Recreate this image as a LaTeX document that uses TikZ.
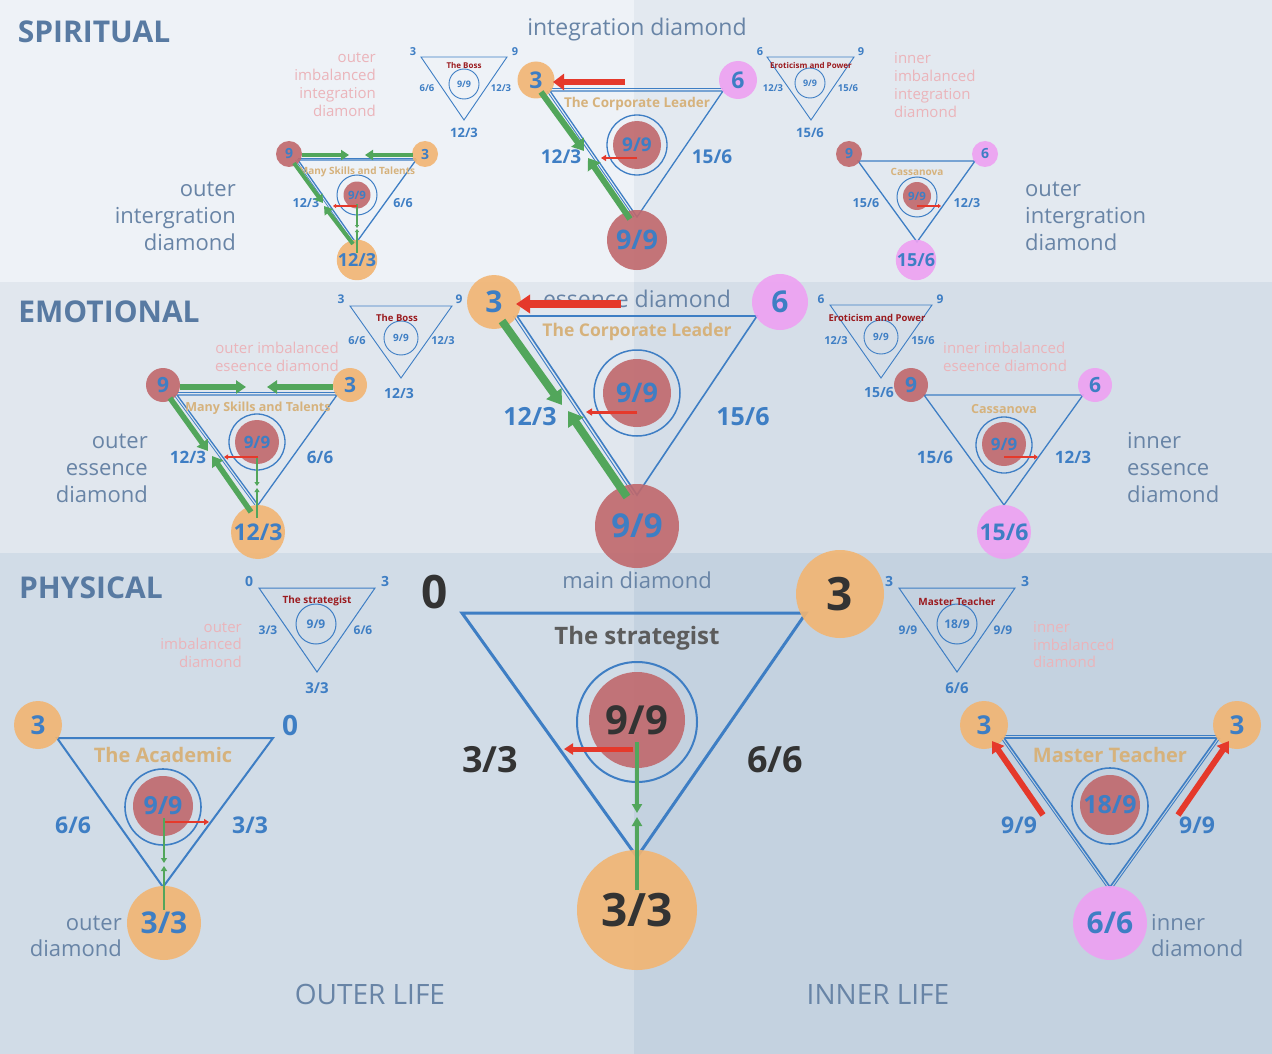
\documentclass[tikz,border=0pt]{standalone}
\usepackage{fontspec}
\setmainfont{Open Sans}
\usetikzlibrary{arrows.meta}
\definecolor{bgTL}{RGB}{238,242,247}
\definecolor{bgTR}{RGB}{227,233,240}
\definecolor{bgML}{RGB}{225,231,238}
\definecolor{bgMR}{RGB}{213,222,232}
\definecolor{bgBL}{RGB}{209,220,231}
\definecolor{bgBR}{RGB}{196,210,224}
\definecolor{dblue}{RGB}{62,126,196}
\definecolor{corange}{RGB}{242,181,114}
\definecolor{cred}{RGB}{192,104,108}
\definecolor{cpink}{RGB}{238,160,242}
\definecolor{cgold}{RGB}{214,178,124}
\definecolor{dkred}{RGB}{155,27,31}
\definecolor{plabel}{RGB}{235,180,186}
\definecolor{slate}{RGB}{104,132,166}
\definecolor{titleblue}{RGB}{88,122,162}
\definecolor{cgreen}{RGB}{82,166,91}
\definecolor{carrow}{RGB}{229,57,43}
\definecolor{dgray}{RGB}{51,51,51}
\definecolor{mgray}{RGB}{92,92,92}
\newcommand{\myfs}[1]{\fontsize{#1}{#1}\selectfont}
\tikzset{
  tri/.style={draw=dblue, line width=1.3pt, line join=miter},
  tridbl/.style={draw=dblue, line width=0.9pt},
  cdot/.style={circle, inner sep=0pt, text=dblue, fill opacity=0.9, text opacity=1},
  cring/.style={circle, draw=dblue, line width=1.3pt, inner sep=0pt},
  num/.style={text=dblue, inner sep=0pt},
  gold/.style={text=cgold, inner sep=0pt},
  boss/.style={text=dkred, inner sep=0pt},
  title/.style={text=titleblue, inner sep=0pt, font=\bfseries\myfs{30}},
  desc/.style={text=slate, inner sep=0pt},
  pink/.style={text=plabel, inner sep=0pt},
  garrow/.style={draw=cgreen, line width=#1},
  rarrow/.style={draw=carrow, line width=#1},
}
\begin{document}
\begin{tikzpicture}[x=1pt,y=-1pt]
\useasboundingbox (0,0) rectangle (1272,1054);
% backgrounds
\fill[bgTL] (0,0) rectangle (634,282);
\fill[bgTR] (634,0) rectangle (1272,282);
\fill[bgML] (0,282) rectangle (634,553);
\fill[bgMR] (634,282) rectangle (1272,553);
\fill[bgBL] (0,553) rectangle (634,1054);
\fill[bgBR] (634,553) rectangle (1272,1054);

% titles
\node[title] (tS) at (94,32) {SPIRITUAL};
\node[title] (tE) at (109,312) {EMOTIONAL};
\node[title] (tP) at (91,588) {PHYSICAL};
\node[desc, font=\myfs{23}] (lInt) at (637,30) {integration diamond};
\node[desc, font=\myfs{23}] (lEss) at (637,299) {essence diamond};
\node[desc, font=\myfs{22}] (lMain) at (637,580) {main diamond};
\node[desc, font=\myfs{28}] (lOut) at (370,994) {OUTER LIFE};
\node[desc, font=\myfs{28}] (lIn) at (878,994) {INNER LIFE};

% ===================== SPIRITUAL =====================
% corporate leader
\coordinate (scA) at (550,91); \coordinate (scB) at (723,91); \coordinate (scC) at (637,217);
\draw[tri] (scA) -- (scB) -- (scC) -- cycle;
\draw[tridbl] ([yshift=2.5pt]scA) -- ([yshift=2.5pt]scB);
\draw[tridbl] ([xshift=-3pt]scA) -- ([xshift=-3pt]scC);
\node[cring, minimum size=60pt] (scR) at (637,145) {};
\node[cdot, fill=cred, minimum size=48pt, font=\bfseries\myfs{19}] (scI) at (637,145) {9/9};
\node[cdot, fill=corange, minimum size=37pt, font=\bfseries\myfs{23}] (sc3) at (536,80) {3};
\node[cdot, fill=cpink, minimum size=38pt, font=\bfseries\myfs{23}] (sc6) at (738,80) {6};
\node[cdot, fill=cred, minimum size=60pt, font=\bfseries\myfs{27}] (scB9) at (637,240) {9/9};
\node[gold, font=\bfseries\myfs{13.5}] (scT) at (637,104) {The Corporate Leader};
\node[num, font=\bfseries\myfs{19}] (scL) at (561,157) {12/3};
\node[num, font=\bfseries\myfs{19}] (scRr) at (712,157) {15/6};

% boss small
\coordinate (sbA) at (421,57); \coordinate (sbB) at (507,57); \coordinate (sbC) at (464,120);
\draw[tri, line width=0.9pt] (sbA) -- (sbB) -- (sbC) -- cycle;
\node[cring, line width=0.9pt, minimum size=30pt, font=\bfseries\myfs{9}, text=dblue] (sbR) at (464,84) {9/9};
\node[num, font=\bfseries\myfs{11}] (sb3) at (413,52) {3};
\node[num, font=\bfseries\myfs{11}] (sb9) at (515,52) {9};
\node[boss, font=\bfseries\myfs{8}] (sbT) at (464,66) {The Boss};
\node[num, font=\bfseries\myfs{9.5}] (sbL) at (427,88) {6/6};
\node[num, font=\bfseries\myfs{9.5}] (sbRr) at (501,88) {12/3};
\node[num, font=\bfseries\myfs{13}] (sbBt) at (464,133) {12/3};
\node[pink, font=\fontsize{15}{18}\selectfont, align=right, anchor=east] (sbP) at (376,85) {outer\\imbalanced\\integration\\diamond};

% many skills
\coordinate (smA) at (298,160); \coordinate (smB) at (416,160); \coordinate (smC) at (356,243);
\draw[tri] (smA) -- (smB) -- (smC) -- cycle;
\draw[tridbl, line width=0.7pt] ([yshift=2pt]smA) -- ([yshift=2pt]smB);
\draw[tridbl, line width=0.7pt] ([xshift=-2.5pt]smA) -- ([xshift=-2.5pt]smC);
\node[cring, line width=1pt, minimum size=40pt] (smR) at (357,195) {};
\node[cdot, fill=cred, minimum size=27pt, font=\bfseries\myfs{11.5}] (smI) at (357,195) {9/9};
\node[cdot, fill=cred, minimum size=26pt, font=\bfseries\myfs{14}] (sm9) at (289,154) {9};
\node[cdot, fill=corange, minimum size=26pt, font=\bfseries\myfs{14}] (sm3) at (425,154) {3};
\node[cdot, fill=corange, minimum size=40pt, font=\bfseries\myfs{18}] (smB3) at (357,260) {12/3};
\node[gold, font=\bfseries\myfs{10}] (smT) at (357,172) {Many Skills and Talents};
\node[num, font=\bfseries\myfs{12.5}] (smL) at (306,203) {12/3};
\node[num, font=\bfseries\myfs{12.5}] (smRr) at (403,203) {6/6};
\node[desc, font=\fontsize{22}{27}\selectfont, align=right, anchor=east] (smD) at (236,216) {outer\\intergration\\diamond};

% eroticism small
\coordinate (seA) at (767,57); \coordinate (seB) at (854,57); \coordinate (seC) at (811,120);
\draw[tri, line width=0.9pt] (seA) -- (seB) -- (seC) -- cycle;
\node[cring, line width=0.9pt, minimum size=30pt, font=\bfseries\myfs{9}, text=dblue] (seR) at (810,83) {9/9};
\node[num, font=\bfseries\myfs{11}] (se6) at (760,52) {6};
\node[num, font=\bfseries\myfs{11}] (se9) at (861,52) {9};
\node[boss, font=\bfseries\myfs{8}] (seT) at (811,66) {Eroticism and Power};
\node[num, font=\bfseries\myfs{9.5}] (seL) at (773,88) {12/3};
\node[num, font=\bfseries\myfs{9.5}] (seRr) at (848,88) {15/6};
\node[num, font=\bfseries\myfs{13}] (seBt) at (810,133) {15/6};
\node[pink, font=\fontsize{15}{18}\selectfont, align=left, anchor=west] (seP) at (894,85) {inner\\imbalanced\\integration\\diamond};

% cassanova
\coordinate (skA) at (858,161); \coordinate (skB) at (975,161); \coordinate (skC) at (917,242);
\draw[tri] (skA) -- (skB) -- (skC) -- cycle;
\node[cring, line width=1pt, minimum size=40pt] (skR) at (917,197) {};
\node[cdot, fill=cred, minimum size=28pt, font=\bfseries\myfs{11.5}] (skI) at (917,196) {9/9};
\node[cdot, fill=cred, minimum size=26pt, font=\bfseries\myfs{14}] (sk9) at (849,154) {9};
\node[cdot, fill=cpink, minimum size=26pt, font=\bfseries\myfs{14}] (sk6) at (985,154) {6};
\node[cdot, fill=cpink, minimum size=40pt, font=\bfseries\myfs{18}] (skB6) at (916,260) {15/6};
\node[gold, font=\bfseries\myfs{10}] (skT) at (917,172) {Cassanova};
\node[num, font=\bfseries\myfs{12.5}] (skL) at (866,203) {15/6};
\node[num, font=\bfseries\myfs{12.5}] (skRr) at (967,203) {12/3};
\node[desc, font=\fontsize{22}{27}\selectfont, align=left, anchor=west] (skD) at (1025,216) {outer\\intergration\\diamond};

% ===================== EMOTIONAL =====================
\coordinate (ecA) at (517,316); \coordinate (ecB) at (757,316); \coordinate (ecC) at (637,495);
\draw[tri, line width=1.6pt] (ecA) -- (ecB) -- (ecC) -- cycle;
\draw[tridbl] ([xshift=-3.5pt]ecA) -- ([xshift=-3.5pt]ecC);
\node[cring, minimum size=86pt, line width=1.5pt] (ecR) at (637,393) {};
\node[cdot, fill=cred, minimum size=68pt, font=\bfseries\myfs{27}] (ecI) at (637,393) {9/9};
\node[cdot, fill=corange, minimum size=54pt, font=\bfseries\myfs{30}] (ec3) at (494,302) {3};
\node[cdot, fill=cpink, minimum size=56pt, font=\bfseries\myfs{30}] (ec6) at (780,302) {6};
\node[cdot, fill=cred, minimum size=84pt, font=\bfseries\myfs{33}] (ecB9) at (637,526) {9/9};
\node[gold, font=\bfseries\myfs{17.5}] (ecT) at (637,332) {The Corporate Leader};
\node[num, font=\bfseries\myfs{25}] (ecL) at (530,417) {12/3};
\node[num, font=\bfseries\myfs{25}] (ecRr) at (743,417) {15/6};

% boss small
\coordinate (ebA) at (350,306); \coordinate (ebB) at (452,306); \coordinate (ebC) at (401,378);
\draw[tri, line width=0.9pt] (ebA) -- (ebB) -- (ebC) -- cycle;
\node[cring, line width=0.9pt, minimum size=34pt, font=\bfseries\myfs{10}, text=dblue] (ebR) at (401,338) {9/9};
\node[num, font=\bfseries\myfs{12}] (eb3) at (341,299) {3};
\node[num, font=\bfseries\myfs{12}] (eb9) at (459,299) {9};
\node[boss, font=\bfseries\myfs{9.5}] (ebT) at (397,318) {The Boss};
\node[num, font=\bfseries\myfs{11}] (ebL) at (357,341) {6/6};
\node[num, font=\bfseries\myfs{11}] (ebRr) at (443,341) {12/3};
\node[num, font=\bfseries\myfs{14}] (ebBt) at (399,393) {12/3};
\node[pink, font=\fontsize{15}{18}\selectfont, align=right, anchor=east] (ebP) at (339,357) {outer imbalanced\\eseence diamond};

% many skills
\coordinate (emA) at (177,395); \coordinate (emB) at (337,395); \coordinate (emC) at (258,505);
\draw[tri] (emA) -- (emB) -- (emC) -- cycle;
\draw[tridbl, line width=0.8pt] ([yshift=3pt]emA) -- ([yshift=3pt]emB);
\draw[tridbl, line width=0.8pt] ([xshift=-3pt]emA) -- ([xshift=-3pt]emC);
\node[cring, minimum size=56pt] (emR) at (257,442) {};
\node[cdot, fill=cred, minimum size=44pt, font=\bfseries\myfs{17}] (emI) at (257,442) {9/9};
\node[cdot, fill=cred, minimum size=34pt, font=\bfseries\myfs{21}] (em9) at (163,385) {9};
\node[cdot, fill=corange, minimum size=34pt, font=\bfseries\myfs{21}] (em3) at (350,385) {3};
\node[cdot, fill=corange, minimum size=54pt, font=\bfseries\myfs{23}] (emB3) at (258,532) {12/3};
\node[gold, font=\bfseries\myfs{12.5}] (emT) at (258,408) {Many Skills and Talents};
\node[num, font=\bfseries\myfs{17}] (emL) at (188,457) {12/3};
\node[num, font=\bfseries\myfs{17}] (emRr) at (320,457) {6/6};
\node[desc, font=\fontsize{22}{27}\selectfont, align=right, anchor=east] (emD) at (148,468) {outer\\essence\\diamond};

% eroticism small
\coordinate (eeA) at (830,305); \coordinate (eeB) at (932,305); \coordinate (eeC) at (881,378);
\draw[tri, line width=0.9pt] (eeA) -- (eeB) -- (eeC) -- cycle;
\node[cring, line width=0.9pt, minimum size=34pt, font=\bfseries\myfs{10}, text=dblue] (eeR) at (881,337) {9/9};
\node[num, font=\bfseries\myfs{12}] (ee6) at (821,299) {6};
\node[num, font=\bfseries\myfs{12}] (ee9) at (940,299) {9};
\node[boss, font=\bfseries\myfs{9.5}] (eeT) at (877,318) {Eroticism and Power};
\node[num, font=\bfseries\myfs{11}] (eeL) at (836,341) {12/3};
\node[num, font=\bfseries\myfs{11}] (eeRr) at (923,341) {15/6};
\node[num, font=\bfseries\myfs{14}] (eeBt) at (879,393) {15/6};
\node[pink, font=\fontsize{15}{18}\selectfont, align=left, anchor=west] (eeP) at (943,357) {inner imbalanced\\eseence diamond};

% cassanova
\coordinate (ekA) at (924,395); \coordinate (ekB) at (1083,395); \coordinate (ekC) at (1004,505);
\draw[tri] (ekA) -- (ekB) -- (ekC) -- cycle;
\node[cring, minimum size=56pt] (ekR) at (1004,445) {};
\node[cdot, fill=cred, minimum size=44pt, font=\bfseries\myfs{17}] (ekI) at (1004,444) {9/9};
\node[cdot, fill=cred, minimum size=34pt, font=\bfseries\myfs{21}] (ek9) at (911,385) {9};
\node[cdot, fill=cpink, minimum size=34pt, font=\bfseries\myfs{21}] (ek6) at (1095,385) {6};
\node[cdot, fill=cpink, minimum size=54pt, font=\bfseries\myfs{23}] (ekB6) at (1004,532) {15/6};
\node[gold, font=\bfseries\myfs{12.5}] (ekT) at (1004,409) {Cassanova};
\node[num, font=\bfseries\myfs{17}] (ekL) at (935,457) {15/6};
\node[num, font=\bfseries\myfs{17}] (ekRr) at (1073,457) {12/3};
\node[desc, font=\fontsize{22}{27}\selectfont, align=left, anchor=west] (ekD) at (1127,468) {inner\\essence\\diamond};

% ===================== PHYSICAL =====================
\coordinate (pmA) at (462,613); \coordinate (pmB) at (806,613); \coordinate (pmC) at (637,857);
\draw[tri, line width=3pt] (pmA) -- (pmB) -- (pmC) -- cycle;
\node[cring, minimum size=120pt, line width=2pt] (pmR) at (637,722) {};
\node[cdot, fill=cred, minimum size=96pt, text=dgray, font=\bfseries\myfs{40}] (pmI) at (637,720) {9/9};
\node[text=dgray, inner sep=0pt, font=\bfseries\myfs{46}] (pm0) at (435,592) {0};
\node[cdot, fill=corange, minimum size=88pt, text=dgray, font=\bfseries\myfs{46}] (pm3) at (840,594) {3};
\node[cdot, fill=corange, minimum size=120pt, text=dgray, font=\bfseries\myfs{46}] (pmB3) at (637,910) {3/3};
\node[text=mgray, inner sep=0pt, font=\bfseries\myfs{24}] (pmT) at (637,638) {The strategist};
\node[text=dgray, inner sep=0pt, font=\bfseries\myfs{36}] (pmL) at (490,760) {3/3};
\node[text=dgray, inner sep=0pt, font=\bfseries\myfs{36}] (pmRr) at (775,760) {6/6};

% strategist small
\coordinate (psA) at (259,588); \coordinate (psB) at (375,588); \coordinate (psC) at (317,672);
\draw[tri, line width=1pt] (psA) -- (psB) -- (psC) -- cycle;
\node[cring, line width=1pt, minimum size=40pt, font=\bfseries\myfs{12}, text=dblue] (psR) at (316,624) {9/9};
\node[num, font=\bfseries\myfs{14}] (ps0) at (249,581) {0};
\node[num, font=\bfseries\myfs{14}] (ps3) at (385,581) {3};
\node[boss, font=\bfseries\myfs{10}] (psT) at (317,601) {The strategist};
\node[num, font=\bfseries\myfs{12}] (psL) at (268,630) {3/3};
\node[num, font=\bfseries\myfs{12}] (psRr) at (363,630) {6/6};
\node[num, font=\bfseries\myfs{15}] (psBt) at (317,688) {3/3};
\node[pink, font=\fontsize{15}{17.5}\selectfont, align=right, anchor=east] (psP) at (242,645) {outer\\imbalanced\\diamond};

% academic
\coordinate (paA) at (57,738); \coordinate (paB) at (273,738); \coordinate (paC) at (163,887);
\draw[tri, line width=2pt] (paA) -- (paB) -- (paC) -- cycle;
\node[cring, minimum size=76pt, line width=1.6pt] (paR) at (163,807) {};
\node[cdot, fill=cred, minimum size=60pt, font=\bfseries\myfs{25}] (paI) at (163,806) {9/9};
\node[cdot, fill=corange, minimum size=48pt, font=\bfseries\myfs{26}] (pa3) at (38,725) {3};
\node[num, font=\bfseries\myfs{28}] (pa0) at (290,725) {0};
\node[cdot, fill=corange, minimum size=74pt, font=\bfseries\myfs{30}] (paB3) at (164,923) {3/3};
\node[gold, font=\bfseries\myfs{20}] (paT) at (163,755) {The Academic};
\node[num, font=\bfseries\myfs{23}] (paL) at (73,825) {6/6};
\node[num, font=\bfseries\myfs{23}] (paRr) at (250,825) {3/3};
\node[desc, font=\fontsize{22}{26}\selectfont, align=right, anchor=east] (paD) at (122,936) {outer\\diamond};

% master teacher small
\coordinate (ptA) at (899,588); \coordinate (ptB) at (1015,588); \coordinate (ptC) at (957,672);
\draw[tri, line width=1pt] (ptA) -- (ptB) -- (ptC) -- cycle;
\node[cring, line width=1pt, minimum size=40pt, font=\bfseries\myfs{12}, text=dblue] (ptR) at (957,624) {18/9};
\node[num, font=\bfseries\myfs{14}] (pt3a) at (889,581) {3};
\node[num, font=\bfseries\myfs{14}] (pt3b) at (1025,581) {3};
\node[boss, font=\bfseries\myfs{10}] (ptT) at (957,602) {Master Teacher};
\node[num, font=\bfseries\myfs{12}] (ptL) at (908,630) {9/9};
\node[num, font=\bfseries\myfs{12}] (ptRr) at (1003,630) {9/9};
\node[num, font=\bfseries\myfs{15}] (ptBt) at (957,688) {6/6};
\node[pink, font=\fontsize{15}{17.5}\selectfont, align=left, anchor=west] (ptP) at (1033,645) {inner\\imbalanced\\diamond};

% master teacher main
\coordinate (pxA) at (1004,738); \coordinate (pxB) at (1217,738); \coordinate (pxC) at (1110,887);
\draw[tri, line width=1.6pt] (pxA) -- (pxB) -- (pxC) -- cycle;
\draw[tridbl] ([yshift=2.5pt]pxA) -- ([yshift=2.5pt]pxB);
\draw[tridbl] ([xshift=-3pt]pxA) -- ([xshift=-3pt]pxC);
\draw[tridbl] ([xshift=3pt]pxB) -- ([xshift=3pt]pxC);
\node[cring, minimum size=76pt, line width=1.6pt] (pxR) at (1110,806) {};
\node[cdot, fill=cred, minimum size=60pt, font=\bfseries\myfs{25}] (pxI) at (1110,805) {18/9};
\node[cdot, fill=corange, minimum size=48pt, font=\bfseries\myfs{26}] (px3a) at (984,725) {3};
\node[cdot, fill=corange, minimum size=48pt, font=\bfseries\myfs{26}] (px3b) at (1237,725) {3};
\node[cdot, fill=cpink, minimum size=74pt, font=\bfseries\myfs{30}] (pxB6) at (1110,923) {6/6};
\node[gold, font=\bfseries\myfs{20}] (pxT) at (1110,755) {Master Teacher};
\node[num, font=\bfseries\myfs{23}] (pxL) at (1019,825) {9/9};
\node[num, font=\bfseries\myfs{23}] (pxRr) at (1197,825) {9/9};
\node[desc, font=\fontsize{22}{26}\selectfont, align=left, anchor=west] (pxD) at (1151,936) {inner\\diamond};

% ===================== ARROWS =====================
% spiritual corporate
\coordinate (a1s) at (625,82); \coordinate (a1e) at (553,82);
\draw[rarrow=6pt, -{Triangle[length=11pt,width=16pt]}] (a1s) -- (a1e);
\coordinate (a2s) at (637,158); \coordinate (a2e) at (601,158);
\draw[rarrow=2.5pt, -{Triangle[length=5pt,width=6pt]}] (a2s) -- (a2e);
\coordinate (a3s) at (541,92); \coordinate (a3e) at (584,151);
\draw[garrow=6pt, -{Triangle[length=11pt,width=15pt]}] (a3s) -- (a3e);
\coordinate (a4s) at (630,219); \coordinate (a4e) at (588,158);
\draw[garrow=6pt, -{Triangle[length=11pt,width=15pt]}] (a4s) -- (a4e);
% spiritual many skills
\coordinate (b1s) at (302,155); \coordinate (b1e) at (349,155);
\draw[garrow=4pt, -{Triangle[length=8pt,width=10pt]}] (b1s) -- (b1e);
\coordinate (b2s) at (413,155); \coordinate (b2e) at (365,155);
\draw[garrow=4pt, -{Triangle[length=8pt,width=10pt]}] (b2s) -- (b2e);
\coordinate (b3s) at (294,163); \coordinate (b3e) at (323,203);
\draw[garrow=4pt, -{Triangle[length=8pt,width=10pt]}] (b3s) -- (b3e);
\coordinate (b4s) at (353,244); \coordinate (b4e) at (324,206);
\draw[garrow=4pt, -{Triangle[length=8pt,width=10pt]}] (b4s) -- (b4e);
\coordinate (b5s) at (357,204); \coordinate (b5e) at (357,228);
\draw[garrow=1.5pt, -{Triangle[length=3pt,width=4pt]}] (b5s) -- (b5e);
\coordinate (b6s) at (357,253); \coordinate (b6e) at (357,229);
\draw[garrow=1.5pt, -{Triangle[length=3pt,width=4pt]}] (b6s) -- (b6e);
\coordinate (b7s) at (357,206); \coordinate (b7e) at (333,206);
\draw[rarrow=2pt, -{Triangle[length=3pt,width=4pt]}] (b7s) -- (b7e);
% spiritual cassanova
\coordinate (c1s) at (917,206); \coordinate (c1e) at (941,206);
\draw[rarrow=2pt, -{Triangle[length=3pt,width=4pt]}] (c1s) -- (c1e);
% emotional corporate
\coordinate (d1s) at (621,304); \coordinate (d1e) at (516,304);
\draw[rarrow=8pt, -{Triangle[length=14pt,width=18pt]}] (d1s) -- (d1e);
\coordinate (d2s) at (637,412); \coordinate (d2e) at (586,412);
\draw[rarrow=3pt, -{Triangle[length=6pt,width=7pt]}] (d2s) -- (d2e);
\coordinate (d3s) at (502,321); \coordinate (d3e) at (562,405);
\draw[garrow=8pt, -{Triangle[length=14pt,width=18pt]}] (d3s) -- (d3e);
\coordinate (d4s) at (627,497); \coordinate (d4e) at (568,411);
\draw[garrow=8pt, -{Triangle[length=14pt,width=18pt]}] (d4s) -- (d4e);
% emotional many skills
\coordinate (e1s) at (180,387); \coordinate (e1e) at (246,387);
\draw[garrow=5.5pt, -{Triangle[length=10pt,width=13pt]}] (e1s) -- (e1e);
\coordinate (e2s) at (333,387); \coordinate (e2e) at (267,387);
\draw[garrow=5.5pt, -{Triangle[length=10pt,width=13pt]}] (e2s) -- (e2e);
\coordinate (e3s) at (170,398); \coordinate (e3e) at (208,451);
\draw[garrow=5.5pt, -{Triangle[length=10pt,width=13pt]}] (e3s) -- (e3e);
\coordinate (e4s) at (251,512); \coordinate (e4e) at (212,456);
\draw[garrow=5.5pt, -{Triangle[length=10pt,width=13pt]}] (e4s) -- (e4e);
\coordinate (e5s) at (257,456); \coordinate (e5e) at (257,486);
\draw[garrow=2pt, -{Triangle[length=4pt,width=5pt]}] (e5s) -- (e5e);
\coordinate (e6s) at (257,518); \coordinate (e6e) at (257,488);
\draw[garrow=2pt, -{Triangle[length=4pt,width=5pt]}] (e6s) -- (e6e);
\coordinate (e7s) at (258,457); \coordinate (e7e) at (224,457);
\draw[rarrow=2pt, -{Triangle[length=4pt,width=5pt]}] (e7s) -- (e7e);
% emotional cassanova
\coordinate (f1s) at (1004,457); \coordinate (f1e) at (1038,457);
\draw[rarrow=2pt, -{Triangle[length=4pt,width=5pt]}] (f1s) -- (f1e);
% physical main
\coordinate (g1s) at (633,749); \coordinate (g1e) at (564,749);
\draw[rarrow=5pt, -{Triangle[length=9pt,width=11pt]}] (g1s) -- (g1e);
\coordinate (g2s) at (637,742); \coordinate (g2e) at (637,813);
\draw[garrow=4pt, -{Triangle[length=9pt,width=10pt]}] (g2s) -- (g2e);
\coordinate (g3s) at (637,890); \coordinate (g3e) at (637,817);
\draw[garrow=4pt, -{Triangle[length=9pt,width=10pt]}] (g3s) -- (g3e);
% academic
\coordinate (h1s) at (165,822); \coordinate (h1e) at (209,822);
\draw[rarrow=2.5pt, -{Triangle[length=5pt,width=6pt]}] (h1s) -- (h1e);
\coordinate (h2s) at (164,818); \coordinate (h2e) at (164,863);
\draw[garrow=2.5pt, -{Triangle[length=5pt,width=6pt]}] (h2s) -- (h2e);
\coordinate (h3s) at (164,910); \coordinate (h3e) at (164,866);
\draw[garrow=2.5pt, -{Triangle[length=5pt,width=6pt]}] (h3s) -- (h3e);
% master teacher
\coordinate (k1s) at (1043,815); \coordinate (k1e) at (992,741);
\draw[rarrow=6pt, -{Triangle[length=11pt,width=14pt]}] (k1s) -- (k1e);
\coordinate (k2s) at (1178,815); \coordinate (k2e) at (1229,741);
\draw[rarrow=6pt, -{Triangle[length=11pt,width=14pt]}] (k2s) -- (k2e);
\end{tikzpicture}
\end{document}
